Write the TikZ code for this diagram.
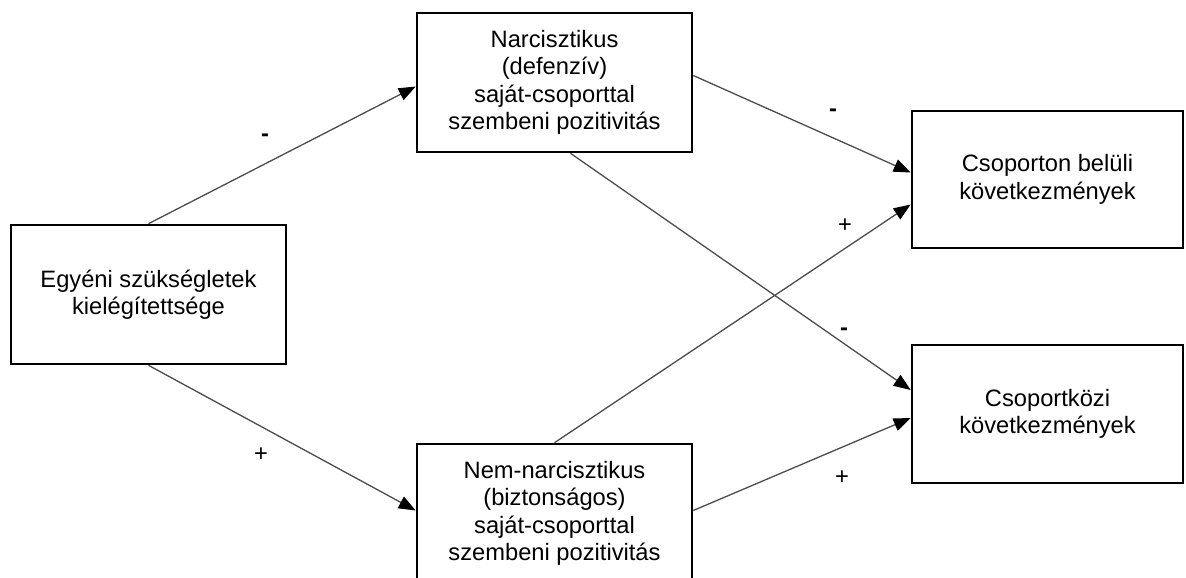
\documentclass[tikz,border=0pt]{standalone}
\usepackage{fontspec}
\setmainfont{Liberation Sans}
\usetikzlibrary{arrows.meta}
\begin{document}
\begin{tikzpicture}[x=1pt,y=-1pt,
  box/.style={draw=black, line width=2.6pt, fill=white, rectangle, inner sep=0pt,
    align=center, font=\fontsize{23.7}{27.5}\selectfont},
  conn/.style={draw=black!70, line width=1.3pt,
    -{Triangle[length=17pt,width=13pt,color=black]}},
  sign/.style={font=\fontsize{23.7}{27}\selectfont, inner sep=0pt}]
\useasboundingbox[fill=white] (0,0) rectangle (1186,578);
\node[box, minimum width=275pt, minimum height=139pt] (L) at (148.5,294.5)
  {Egyéni szükségletek\\kielégítettsége};
\node[box, minimum width=275pt, minimum height=139pt] (T) at (554.5,82.5)
  {Narcisztikus\\(defenzív)\\saját-csoporttal\\szembeni pozitivitás};
\node[box, minimum width=275pt, minimum height=139pt] (B) at (554.5,513.5)
  {Nem-narcisztikus\\(biztonságos)\\saját-csoporttal\\szembeni pozitivitás};
\node[box, minimum width=271pt, minimum height=137pt] (R1) at (1047.5,179.5)
  {Csoporton belüli\\következmények};
\node[box, minimum width=271pt, minimum height=138pt] (R2) at (1047.5,414)
  {Csoportközi\\következmények};
\draw[conn] (L.north) -- ([yshift=-4pt]T.west);
\draw[conn] (L.south) -- ([yshift=3pt]B.west);
\draw[conn] ([yshift=7pt]T.east) -- ([yshift=7pt]R1.west);
\draw[conn] ([xshift=16pt]T.south) -- ([yshift=24pt]R2.west);
\draw[conn] (B.north) -- ([yshift=-25pt]R1.west);
\draw[conn] ([yshift=3pt]B.east) -- ([yshift=-4pt]R2.west);
\node[sign] (s1) at (265,138) {\textbf{-}};
\node[sign] (s2) at (261,455) {+};
\node[sign] (s3) at (833,113) {\textbf{-}};
\node[sign] (s4) at (845,226) {+};
\node[sign] (s5) at (844,332) {\textbf{-}};
\node[sign] (s6) at (842,478) {+};
\end{tikzpicture}
\end{document}
